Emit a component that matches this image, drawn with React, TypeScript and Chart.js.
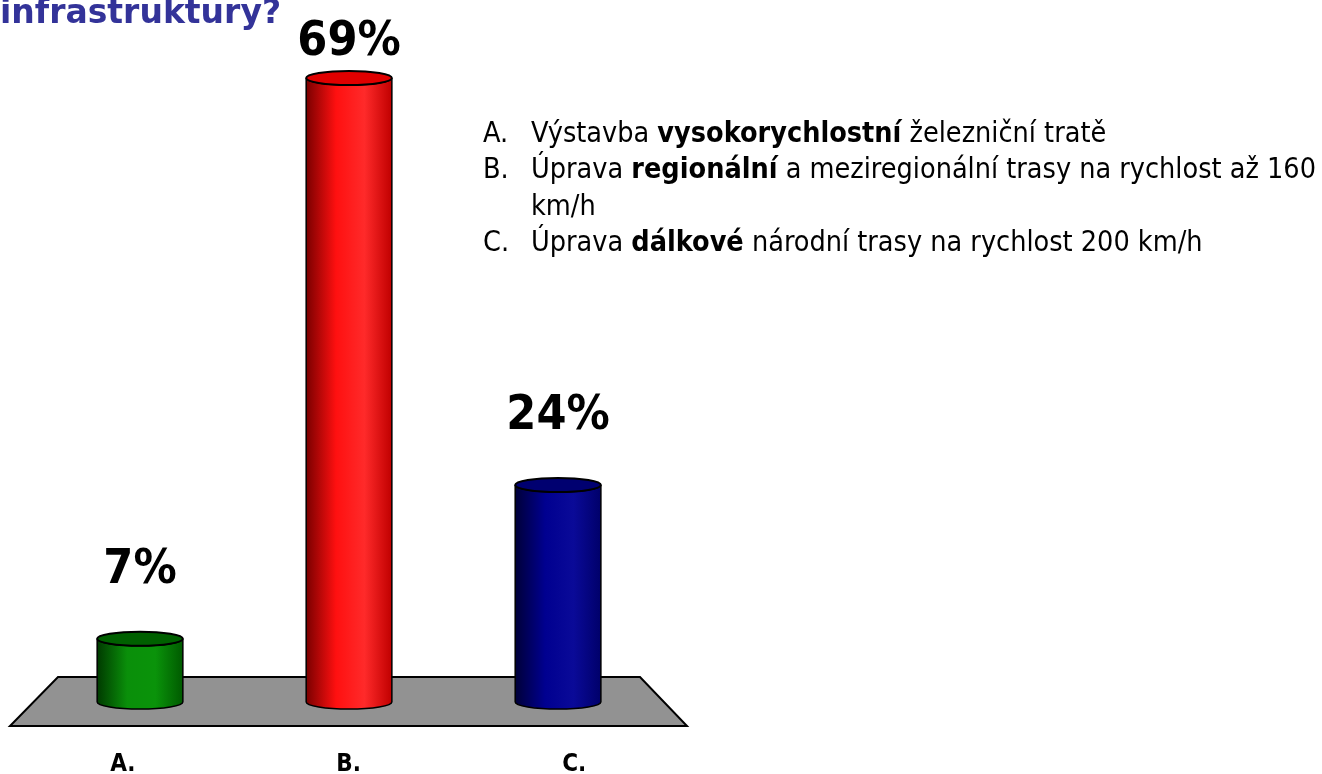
import React, { useEffect, useRef } from "react";
import { Chart, registerables } from "chart.js";

Chart.register(...registerables);

const categories = ["A.", "B.", "C."];
const values = [7, 69, 24];
const legendItems = [
  { key: "A.", pre: "Výstavba ", bold: "vysokorychlostní", post: " železniční tratě" },
  { key: "B.", pre: "Úprava ", bold: "regionální", post: " a meziregionální trasy na rychlost až 160 km/h" },
  { key: "C.", pre: "Úprava ", bold: "dálkové", post: " národní trasy na rychlost 200 km/h" },
];
const titleText = "infrastruktury?";

const barStyles = [
  { dark: "#003a00", mid: "#0a8f0a", light: "#0a930a", edge: "#005a00", top: "#006000" },
  { dark: "#7a0000", mid: "#ff1010", light: "#ff2a2a", edge: "#c00000", top: "#e00000" },
  { dark: "#000038", mid: "#000090", light: "#0a0a98", edge: "#00006a", top: "#000070" },
];

const FONT = "'DejaVu Sans Condensed', 'DejaVu Sans', sans-serif";

const cylinderPlugin = {
  id: "cylinders",
  beforeDatasetsDraw(chart: any) {
    const { ctx, chartArea, scales } = chart;
    const y0 = scales.y.getPixelForValue(0);
    const l = chartArea.left;
    const r = chartArea.right;
    ctx.save();
    ctx.beginPath();
    ctx.moveTo(l + 48, y0 - 25);
    ctx.lineTo(r - 47, y0 - 25);
    ctx.lineTo(r, y0 + 24);
    ctx.lineTo(l, y0 + 24);
    ctx.closePath();
    ctx.fillStyle = "#929292";
    ctx.fill();
    ctx.lineWidth = 2;
    ctx.strokeStyle = "#000";
    ctx.lineJoin = "miter";
    ctx.stroke();
    ctx.restore();
  },
  afterDatasetsDraw(chart: any) {
    const { ctx } = chart;
    const meta = chart.getDatasetMeta(0);
    meta.data.forEach((bar: any, i: number) => {
      const { x, y, base, width } = bar.getProps(["x", "y", "base", "width"], true);
      const rx = width / 2;
      const ry = 7;
      const st = barStyles[i];
      ctx.save();
      const g = ctx.createLinearGradient(x - rx, 0, x + rx, 0);
      g.addColorStop(0, st.dark);
      g.addColorStop(0.35, st.mid);
      g.addColorStop(0.68, st.light);
      g.addColorStop(1, st.edge);
      ctx.beginPath();
      ctx.moveTo(x - rx, y);
      ctx.lineTo(x - rx, base);
      ctx.ellipse(x, base, rx, ry, 0, Math.PI, 0, true);
      ctx.lineTo(x + rx, y);
      ctx.ellipse(x, y, rx, ry, 0, 0, Math.PI, false);
      ctx.closePath();
      ctx.fillStyle = g;
      ctx.fill();
      ctx.lineWidth = 1.5;
      ctx.strokeStyle = "#000";
      ctx.stroke();
      // top
      ctx.beginPath();
      ctx.ellipse(x, y, rx, ry, 0, 0, Math.PI * 2);
      ctx.fillStyle = st.top;
      ctx.fill();
      ctx.lineWidth = 2;
      ctx.stroke();
      // label
      ctx.fillStyle = "#000";
      ctx.font = `bold 48px ${FONT}`;
      ctx.textAlign = "center";
      ctx.textBaseline = "alphabetic";
      const ly = Math.max(55, y - 56);
      ctx.fillText(`${values[i]}%`, x, ly);
      ctx.restore();
    });
  },
};

export default function App() {
  const ref = useRef<HTMLCanvasElement>(null);
  useEffect(() => {
    if (!ref.current) return;
    const chart = new Chart(ref.current, {
      type: "bar",
      data: {
        labels: categories,
        datasets: [
          {
            data: values.map((v, i) => ({ x: i, y: v })),
            xAxisID: "xb",
            backgroundColor: "rgba(0,0,0,0)",
            borderWidth: 0,
            barPercentage: 0.82,
            categoryPercentage: 1.0,
          },
        ],
      },
      options: {
        responsive: false,
        animation: false,
        layout: { padding: { left: 10, right: 635, top: 69, bottom: 0 } },
        plugins: { legend: { display: false }, tooltip: { enabled: false }, title: { display: false } },
        scales: {
          x: {
            type: "category",
            grid: { display: false },
            border: { display: false },
            ticks: { color: "#000", font: { family: FONT, size: 24, weight: "bold" }, padding: 40 },
            afterFit: (s: any) => {
              s.height = 72;
            },
          },
          xb: { type: "linear", display: false, min: -0.622, max: 2.617, offset: false },
          y: { display: false, min: 0, max: 70 },
        },
      },
      plugins: [cylinderPlugin],
    });
    return () => chart.destroy();
  }, []);
  return (
    <div style={{ position: "fixed", left: 0, top: 0, width: 1322, height: 774, background: "#fff", overflow: "hidden" }}>
      <canvas ref={ref} width={1322} height={774} style={{ position: "absolute", left: 0, top: 0 }} />
      <div
        style={{
          position: "absolute",
          left: 0,
          top: -8,
          fontFamily: "'DejaVu Sans', sans-serif",
          fontWeight: "bold",
          fontSize: 33,
          color: "#333399",
          whiteSpace: "nowrap",
        }}
      >
        {titleText}
      </div>
      <div
        style={{
          position: "absolute",
          left: 483,
          top: 115,
          width: 850,
          fontFamily: FONT,
          fontSize: 28.5,
          lineHeight: "36.3px",
          color: "#000",
        }}
      >
        {legendItems.map((it) => (
          <div key={it.key} style={{ display: "flex" }}>
            <span style={{ width: 48, flex: "none" }}>{it.key}</span>
            <span>
              {it.pre}
              <b>{it.bold}</b>
              {it.post}
            </span>
          </div>
        ))}
      </div>
    </div>
  );
}
